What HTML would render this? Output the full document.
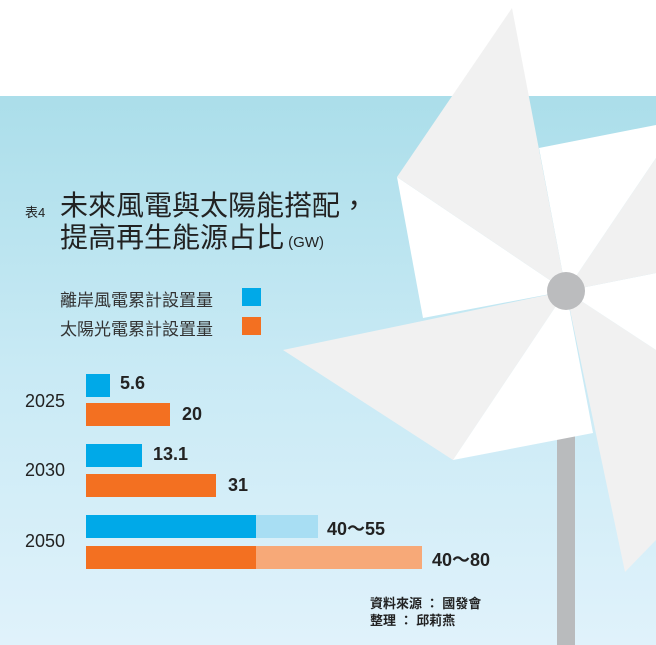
<!DOCTYPE html>
<html><head><meta charset="utf-8"><style>
html,body{margin:0;padding:0}
body{width:656px;height:645px;position:relative;overflow:hidden;background:#fff;font-family:"Liberation Sans","Noto Sans CJK TC",sans-serif}
.bg{position:absolute;left:0;top:96px;width:656px;height:549px;background:linear-gradient(#abdeea,#c9eaf5 50%,#e0f2fb)}
svg{position:absolute;left:0;top:0}
.t{position:absolute;color:#222;white-space:nowrap}
.bar{position:absolute}
.v{position:absolute;font-weight:bold;font-size:18px;color:#222}
.y{position:absolute;font-size:18px;color:#222;left:25px}
</style></head><body>
<div class="bg"></div>
<svg width="656" height="645">
<rect x="557" y="430" width="18" height="215" fill="#b9bbbd"/>
<polygon points="566,291 656,350 656,540 625,572" fill="#f1f1f1"/>
<polygon points="566,291 656,273 656,350" fill="#fff"/>
<polygon points="566,291 656,158 656,273" fill="#f1f1f1"/>
<polygon points="539,148 656,125 656,158 566,291" fill="#fff"/>
<polygon points="397,177 566,291 423,318" fill="#fff"/>
<polygon points="397,177 512,8 566,291" fill="#f1f1f1"/>
<polygon points="283,350 566,291 453,460" fill="#f1f1f1"/>
<polygon points="453,460 566,291 593,433" fill="#fff"/>
<ellipse cx="566" cy="291" rx="19" ry="19" fill="#bbbcbe"/>
</svg>
<div class="t" style="left:25px;top:202px;font-size:13px">表4</div>
<div class="t" style="left:60px;top:190px;font-size:28px;line-height:32px">未來風電與太陽能搭配，<br>提高再生能源占比<span style="font-size:15px"> (GW)</span></div>
<div class="t" style="left:60px;top:286px;font-size:17px;color:#333">離岸風電累計設置量</div>
<div class="t" style="left:60px;top:315px;font-size:17px;color:#333">太陽光電累計設置量</div>
<div class="bar" style="left:242px;top:288px;width:19px;height:18px;background:#00a9e8"></div>
<div class="bar" style="left:242px;top:317px;width:19px;height:18px;background:#f37021"></div>

<div class="y" style="top:391px">2025</div>
<div class="bar" style="left:86px;top:374px;width:24px;height:23px;background:#00a9e8"></div>
<div class="v" style="left:120px;top:373px">5.6</div>
<div class="bar" style="left:86px;top:403px;width:84px;height:23px;background:#f37021"></div>
<div class="v" style="left:182px;top:404px">20</div>

<div class="y" style="top:460px">2030</div>
<div class="bar" style="left:86px;top:444px;width:56px;height:23px;background:#00a9e8"></div>
<div class="v" style="left:153px;top:444px">13.1</div>
<div class="bar" style="left:86px;top:474px;width:130px;height:23px;background:#f37021"></div>
<div class="v" style="left:228px;top:475px">31</div>

<div class="y" style="top:531px">2050</div>
<div class="bar" style="left:86px;top:515px;width:170px;height:23px;background:#00a9e8"></div>
<div class="bar" style="left:256px;top:515px;width:62px;height:23px;background:#a8def3"></div>
<div class="v" style="left:327px;top:515px">40～55</div>
<div class="bar" style="left:86px;top:546px;width:170px;height:23px;background:#f37021"></div>
<div class="bar" style="left:256px;top:546px;width:166px;height:23px;background:#f7a978"></div>
<div class="v" style="left:432px;top:546px">40～80</div>

<div class="t" style="left:370px;top:595px;font-size:13px;font-weight:bold;line-height:17px">資料來源 ： 國發會<br>整理 ： 邱莉燕</div>
</body></html>
